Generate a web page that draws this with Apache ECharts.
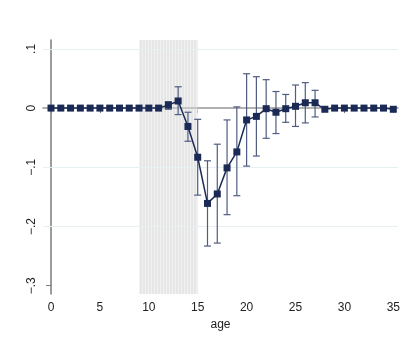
<!DOCTYPE html>
<html>
<head>
<meta charset="utf-8">
<script src="https://cdn.jsdelivr.net/npm/echarts@6/dist/echarts.min.js"></script>
<style>
  html, body { margin: 0; padding: 0; background: #fff; }
  #chart { width: 419px; height: 349px; }
</style>
</head>
<body>
<div id="chart"></div>
<script>
// values
const ages = [0,1,2,3,4,5,6,7,8,9,10,11,12,13,14,15,16,17,18,19,20,21,22,23,24,25,26,27,28,29,30,31,32,33,34,35];
const coef = [0,0,0,0,0,0,0,0,0,0,0,0,0.005,0.012,-0.031,-0.083,-0.161,-0.145,-0.101,-0.074,-0.020,-0.014,-0.001,-0.007,-0.001,0.003,0.009,0.009,-0.002,0,0,0,0,0,0,-0.002];
const ciLow = [null,null,null,null,null,null,null,null,null,null,null,null,-0.002,-0.011,-0.056,-0.147,-0.233,-0.228,-0.180,-0.148,-0.098,-0.081,-0.051,-0.043,-0.024,-0.031,-0.025,-0.015,null,null,null,null,null,null,null,null];
const ciHigh = [null,null,null,null,null,null,null,null,null,null,null,null,0.011,0.036,-0.007,-0.019,-0.089,-0.061,-0.020,0.002,0.058,0.053,0.048,0.028,0.023,0.039,0.043,0.030,null,null,null,null,null,null,null,null];
const xTicks = [0,5,10,15,20,25,30,35];
const yTicks = [-0.3,-0.2,-0.1,0,0.1];
const yGrid = [0.1,-0.1,-0.2];
const shadeRange = [9,15];

const chart = echarts.init(document.getElementById('chart'));

// striped fill for the shaded window
const pat = document.createElement('canvas');
pat.width = 3; pat.height = 4;
const pc = pat.getContext('2d');
pc.fillStyle = '#e6e6e6'; pc.fillRect(0, 0, 3, 4);
pc.fillStyle = '#f2f2f2'; pc.fillRect(1, 0, 1, 4);

const navy = '#1a2a55';
const font = 'Liberation Sans, Arial, sans-serif';

const pts = ages.map((a, i) => [a, coef[i]]);
const bars = [];
ages.forEach((a, i) => {
  if (ciLow[i] !== null) bars.push([a, ciLow[i], ciHigh[i]]);
});

function fmtY(v) {
  if (Math.abs(v) < 1e-9) return '0';
  const s = Math.abs(v).toFixed(1).replace(/^0/, '');
  return (v < 0 ? '\u2212' : '') + s;
}

const option = {
  animation: false,
  grid: { left: 43, right: 21, top: 40, bottom: 55 },
  xAxis: {
    type: 'value',
    min: -0.82,
    max: 35.48,
    name: 'age',
    nameLocation: 'middle',
    nameGap: 25,
    nameTextStyle: { fontFamily: font, fontSize: 12, color: '#222' },
    axisLine: { lineStyle: { color: '#7a7a7a', width: 1.5 } },
    axisTick: { show: true, length: 5, customValues: xTicks, lineStyle: { color: '#7a7a7a' } },
    axisLabel: { customValues: xTicks, margin: 8, fontFamily: font, fontSize: 12, color: '#222' },
    splitLine: { show: false }
  },
  yAxis: {
    type: 'value',
    min: -0.314,
    max: 0.115,
    axisLine: { show: true, lineStyle: { color: '#7a7a7a', width: 1.5 } },
    axisTick: { show: true, length: 5, customValues: yTicks, lineStyle: { color: '#7a7a7a' } },
    axisLabel: {
      customValues: yTicks, rotate: 90, margin: 5,
      fontFamily: font, fontSize: 12, color: '#222',
      formatter: fmtY
    },
    splitLine: { show: false }
  },
  series: [
    {
      type: 'line',
      data: [],
      silent: true,
      z: 1,
      markArea: {
        silent: true,
        z: 1,
        itemStyle: { color: { image: pat, repeat: 'repeat' } },
        data: [[{ xAxis: shadeRange[0] }, { xAxis: shadeRange[1] }]]
      },
      markLine: {
        silent: true,
        z: 1,
        symbol: 'none',
        label: { show: false },
        data: yGrid.map(v => ({ yAxis: v, lineStyle: { color: '#e6eff2', width: 1, type: 'solid' } }))
          .concat([{ yAxis: 0, lineStyle: { color: '#b8b8b8', width: 1.5, type: 'solid' } }])
      }
    },
    {
      type: 'custom',
      data: bars,
      z: 3,
      renderItem: function (params, api) {
        const x = api.value(0);
        const lo = api.coord([x, api.value(1)]);
        const hi = api.coord([x, api.value(2)]);
        const hw = 3.5;
        const st = { stroke: '#4f5d80', lineWidth: 1.2 };
        return {
          type: 'group',
          children: [
            { type: 'line', shape: { x1: lo[0], y1: lo[1], x2: hi[0], y2: hi[1] }, style: st },
            { type: 'line', shape: { x1: lo[0] - hw, y1: lo[1], x2: lo[0] + hw, y2: lo[1] }, style: st },
            { type: 'line', shape: { x1: hi[0] - hw, y1: hi[1], x2: hi[0] + hw, y2: hi[1] }, style: st }
          ]
        };
      }
    },
    {
      type: 'line',
      data: pts,
      z: 4,
      symbol: 'rect',
      symbolSize: 7,
      showAllSymbol: true,
      lineStyle: { color: navy, width: 1.5 },
      itemStyle: { color: navy }
    }
  ]
};

chart.setOption(option);
</script>
</body>
</html>
